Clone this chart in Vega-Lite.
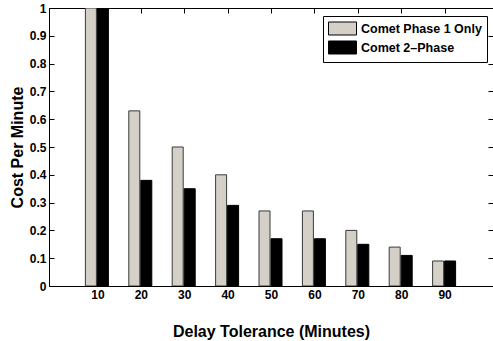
{
  "$schema": "https://vega.github.io/schema/vega-lite/v6.json",
  "width": 444,
  "height": 278,
  "autosize": {"type": "none"},
  "padding": {"left": 49, "top": 8, "right": 0, "bottom": 55},
  "background": "white",
  "config": {
    "font": "Liberation Sans",
    "view": {"stroke": "black", "strokeWidth": 1},
    "axis": {
      "grid": false,
      "domainColor": "black",
      "tickColor": "black",
      "labelColor": "black",
      "titleColor": "black",
      "labelFont": "Liberation Sans",
      "titleFont": "Liberation Sans",
      "labelFontWeight": "bold",
      "labelFontSize": 12,
      "titleFontSize": 16,
      "titleFontWeight": "bold",
      "tickSize": -5,
      "labelPadding": 8
    },
    "legend": {
      "labelFont": "Liberation Sans",
      "labelFontWeight": "bold",
      "labelFontSize": 12.5,
      "labelColor": "black"
    }
  },
  "data": {
    "values": [
      {"delay": 10, "series": "Comet Phase 1 Only", "cost": 1.0},
      {"delay": 20, "series": "Comet Phase 1 Only", "cost": 0.63},
      {"delay": 30, "series": "Comet Phase 1 Only", "cost": 0.50},
      {"delay": 40, "series": "Comet Phase 1 Only", "cost": 0.40},
      {"delay": 50, "series": "Comet Phase 1 Only", "cost": 0.27},
      {"delay": 60, "series": "Comet Phase 1 Only", "cost": 0.27},
      {"delay": 70, "series": "Comet Phase 1 Only", "cost": 0.20},
      {"delay": 80, "series": "Comet Phase 1 Only", "cost": 0.14},
      {"delay": 90, "series": "Comet Phase 1 Only", "cost": 0.09},
      {"delay": 10, "series": "Comet 2–Phase", "cost": 1.0},
      {"delay": 20, "series": "Comet 2–Phase", "cost": 0.38},
      {"delay": 30, "series": "Comet 2–Phase", "cost": 0.35},
      {"delay": 40, "series": "Comet 2–Phase", "cost": 0.29},
      {"delay": 50, "series": "Comet 2–Phase", "cost": 0.17},
      {"delay": 60, "series": "Comet 2–Phase", "cost": 0.17},
      {"delay": 70, "series": "Comet 2–Phase", "cost": 0.15},
      {"delay": 80, "series": "Comet 2–Phase", "cost": 0.11},
      {"delay": 90, "series": "Comet 2–Phase", "cost": 0.09}
    ]
  },
  "layer": [
    {
      "transform": [{"filter": "datum.series === 'Comet Phase 1 Only'"}],
      "mark": {"type": "bar", "width": 11, "xOffset": -6.5, "stroke": "#3a3a3a", "strokeWidth": 1, "clip": true},
      "encoding": {
        "x": {
          "field": "delay", "type": "quantitative",
          "scale": {"domain": [0, 100], "nice": false, "zero": false},
          "axis": {"orient": "bottom", "values": [10, 20, 30, 40, 50, 60, 70, 80, 90], "format": "d", "title": "Delay Tolerance (Minutes)", "titlePadding": 23}
        },
        "y": {
          "field": "cost", "type": "quantitative",
          "scale": {"domain": [0, 1], "nice": false},
          "axis": {"orient": "left", "values": [0, 0.1, 0.2, 0.3, 0.4, 0.5, 0.6, 0.7, 0.8, 0.9, 1], "format": "~g", "title": "Cost Per Minute", "titlePadding": 4}
        },
        "color": {
          "field": "series", "type": "nominal",
          "scale": {"domain": ["Comet Phase 1 Only", "Comet 2–Phase"], "range": ["#d4d0c8", "#000000"]},
          "legend": {
            "title": null,
            "orient": "none",
            "legendX": 274,
            "legendY": 8,
            "padding": 5,
            "strokeColor": "black",
            "fillColor": "white",
            "symbolType": "M-1,-0.93H3V0.93H-1Z",
            "symbolSize": 196,
            "symbolStrokeColor": "#3a3a3a",
            "symbolStrokeWidth": 1,
            "symbolOpacity": 1,
            "rowPadding": 0,
            "labelOffset": 18
          }
        }
      }
    },
    {
      "transform": [{"filter": "datum.series === 'Comet 2–Phase'"}],
      "mark": {"type": "bar", "width": 11, "xOffset": 5.5, "stroke": "#000000", "strokeWidth": 1, "clip": true},
      "encoding": {
        "x": {
          "field": "delay", "type": "quantitative",
          "scale": {"domain": [0, 100], "nice": false, "zero": false},
          "axis": {"orient": "top", "values": [10, 20, 30, 40, 50, 60, 70, 80, 90], "labels": false, "title": null}
        },
        "y": {
          "field": "cost", "type": "quantitative",
          "scale": {"domain": [0, 1], "nice": false},
          "axis": {"orient": "right", "values": [0, 0.1, 0.2, 0.3, 0.4, 0.5, 0.6, 0.7, 0.8, 0.9, 1], "labels": false, "title": null}
        },
        "color": {
          "field": "series", "type": "nominal",
          "scale": {"domain": ["Comet Phase 1 Only", "Comet 2–Phase"], "range": ["#d4d0c8", "#000000"]}
        }
      }
    }
  ],
  "resolve": {"axis": {"x": "independent", "y": "independent"}}
}
